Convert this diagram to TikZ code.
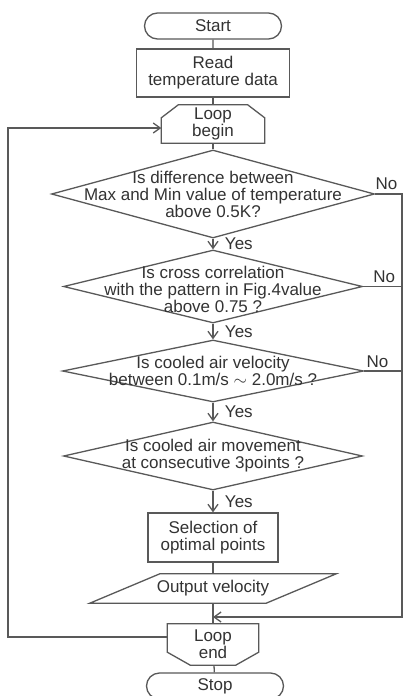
\documentclass[tikz,border=0pt]{standalone}
\usepackage{fontspec}
\setmainfont{Liberation Sans}
\usetikzlibrary{shapes.geometric,shapes.misc,arrows.meta}
\definecolor{linegray}{gray}{0.35}
\definecolor{txtgray}{gray}{0.2}

\begin{document}
\begin{tikzpicture}[x=1pt,y=-1pt,
        every node/.style={font=\fontsize{17}{17}\selectfont, text=txtgray, align=center},
        wire/.style={draw=linegray, line width=1.3pt},
        flow/.style={wire, -{Straight Barb[length=7pt,width=10pt]}},
        terminal/.style={wire, rounded rectangle, minimum width=137pt, minimum height=26pt, inner sep=0pt},
        process/.style={wire, rectangle, inner sep=0pt},
        decision/.style={wire, diamond, inner sep=0pt},
        loopbox/.style={rectangle, inner sep=0pt}]
        \useasboundingbox[fill=white] (0,0) rectangle (403,696);

            \node[terminal] (start) at (213,26) {Start};
            \node[process, minimum width=153pt, minimum height=48pt] (read) at (213,73) {Read\\temperature data};
            \node[loopbox, minimum width=103pt, minimum height=38pt] (lb) at (213,124) {Loop\\begin};
            \node[decision, minimum width=323pt, minimum height=88pt,
                label={center:{Is difference between\\Max and Min value of temperature\\above 0.5K?}}] (d1) at (213,194) {};
            \node[decision, minimum width=299pt, minimum height=73pt,
                label={[yshift=-3pt]center:{Is cross correlation\\with the pattern in Fig.4value\\above 0.75 ?}}] (d2) at (213,286.5) {};
            \node[decision, minimum width=301pt, minimum height=62pt,
                label={center:{Is cooled air velocity\\between 0.1m/s $\sim$ 2.0m/s ?}}] (d3) at (213,371) {};
            \node[decision, minimum width=299pt, minimum height=68pt,
                label={center:{Is cooled air movement\\at consecutive 3points ?}}] (d4) at (213,456) {};
            \node[process, minimum width=130pt, minimum height=49pt] (sel) at (213,537.5) {Selection of\\optimal points};
            \node[loopbox, minimum width=176pt, minimum height=29pt] (ov) at (213,588.5) {Output velocity};
            \node[loopbox, minimum width=91pt, minimum height=41pt] (le) at (213,644.5) {Loop\\end};
            \node[terminal] (stop) at (215,686) {Stop};

            \coordinate (lbot) at (8,637);
            \coordinate (ltop) at (8,128);
            \coordinate (rbot) at (402,617);

            \draw[wire] (lb.south west) -- ([yshift=-13pt]lb.north west) -- ([xshift=17pt]lb.north west)
                -- ([xshift=-17pt]lb.north east) -- ([yshift=-13pt]lb.north east) -- (lb.south east) -- cycle;
            \draw[wire] (le.north west) -- (le.north east) -- ([yshift=13pt]le.south east)
                -- ([xshift=-23pt]le.south east) -- ([xshift=23pt]le.south west) -- ([yshift=13pt]le.south west) -- cycle;
            \draw[wire] ([xshift=-35pt]ov.south west) -- ([xshift=35pt]ov.north west)
                -- ([xshift=35pt]ov.north east) -- ([xshift=-35pt]ov.south east) -- cycle;

            \draw[wire] (start) -- (read);
            \draw[wire] (read) -- (lb);
            \draw[wire] (lb) -- (d1);
            \draw[flow] (d1) -- node[right, xshift=8pt] {Yes} (d2);
            \draw[flow] (d2) -- node[right, xshift=8pt] {Yes} (d3);
            \draw[flow] (d3) -- node[right, xshift=8pt] {Yes} (d4);
            \draw[flow] (d4) -- node[right, xshift=8pt] {Yes} (sel);
            \draw[wire] (sel) -- (ov);
            \draw[wire] (ov) -- (le);
            \draw[wire] (le) -- (stop);

            \draw[flow] (d1.east) -- node[above, pos=0.42] {No} (d1.east -| rbot) -- (rbot) -- (rbot -| le.north);
            \draw[wire] (d2.east) -- node[above, pos=0.54] {No} (d2.east -| rbot);
            \draw[wire] (d3.east) -- node[above, pos=0.35, inner sep=3pt] {No} (d3.east -| rbot);
            \draw[flow] (le.west |- lbot) -- (lbot) -- (ltop) -- (lb.west |- ltop);
        \end{tikzpicture}
\end{document}
